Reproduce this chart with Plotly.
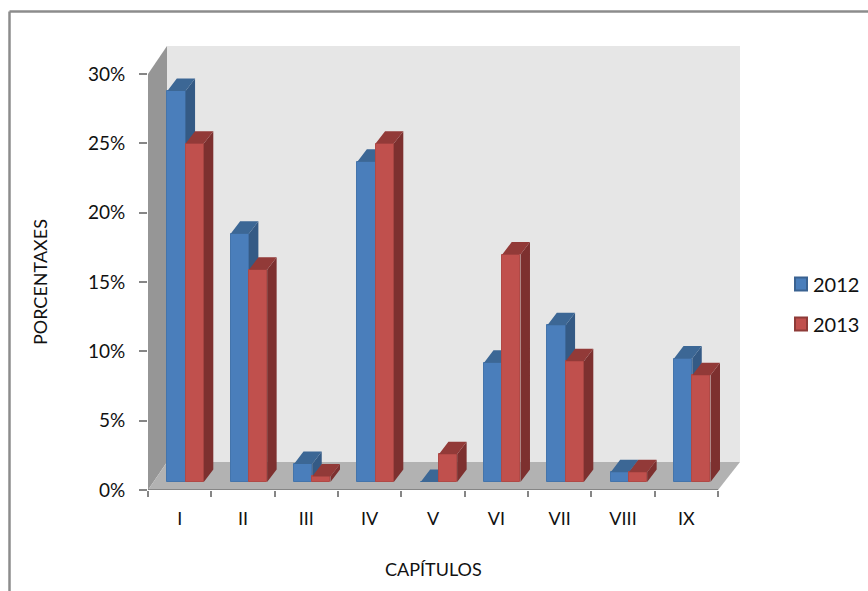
import plotly.graph_objects as go

categories = ["I", "II", "III", "IV", "V", "VI", "VII", "VIII", "IX"]
series_names = ["2012", "2013"]
values_2012 = [28.2, 17.9, 1.3, 23.1, 0.0, 8.6, 11.3, 0.7, 8.9]
values_2013 = [24.4, 15.3, 0.4, 24.4, 2.0, 16.4, 8.7, 0.7, 7.7]
y_ticks = [0, 5, 10, 15, 20, 25, 30]
y_labels = ["0%", "5%", "10%", "15%", "20%", "25%", "30%"]

FONT = "Lato, Carlito, sans-serif"
GRAY = "#868686"
W, H = 868, 591
X_END = len(categories)
X_MAX = 9.347
Y_MAX = 32.02
WALL_DX = 0.30
WALL_DY = 2.02
BAR_W = 0.288
BAR_START = 0.305
BAR_BASE = 0.58
DEPTH_X = 0.15
DEPTH_Y = 0.9
X_DOMAIN = [148 / W, 740 / W]
Y_DOMAIN = [1 - 490 / H, 1 - 46 / H]

fig = go.Figure()


def series(name, values, start, front, edge, top, side, xa, ya):
    xs = [i + start + BAR_W / 2 for i in range(len(values))]
    fig.add_trace(go.Bar(x=xs, y=values, base=BAR_BASE, width=BAR_W, name=name,
                         showlegend=False, xaxis=xa, yaxis=ya,
                         marker=dict(color=front, line=dict(color=edge, width=1))))
    tx, ty, sx, sy = [], [], [], []
    for c, v in zip(xs, values):
        l, r = c - BAR_W / 2, c + BAR_W / 2
        h = v + BAR_BASE
        tx += [l, r, r + DEPTH_X, l + DEPTH_X, l, None]
        ty += [h, h, h + DEPTH_Y, h + DEPTH_Y, h, None]
        sx += [r, r + DEPTH_X, r + DEPTH_X, r, r, None]
        sy += [h, h + DEPTH_Y, BAR_BASE + DEPTH_Y, BAR_BASE, h, None]
    for px, py, col in ((sx, sy, side), (tx, ty, top)):
        fig.add_trace(go.Scatter(x=px, y=py, mode="lines", fill="toself", fillcolor=col,
                                 line=dict(width=0, color=col), hoverinfo="skip",
                                 showlegend=False, xaxis=xa, yaxis=ya))


series(series_names[0], values_2012, BAR_START, "#4A7EBB", "#4474AB", "#3C6795", "#345A85", "x", "y")
series(series_names[1], values_2013, BAR_START + BAR_W, "#C0504D", "#B04946", "#923A38", "#7D302F", "x2", "y2")

# axis line along the front edge of the floor
fig.add_trace(go.Scatter(x=[0, X_END], y=[0, 0], mode="lines", line=dict(color=GRAY, width=2),
                         showlegend=False, hoverinfo="skip", xaxis="x2", yaxis="y2", cliponaxis=False))

walls = [
    (f"M {WALL_DX} {WALL_DY} L {X_MAX} {WALL_DY} L {X_MAX} {Y_MAX} L {WALL_DX} {Y_MAX} Z", "#E6E6E6"),
    (f"M 0 0 L 0 30 L {WALL_DX} {Y_MAX} L {WALL_DX} {WALL_DY} Z", "#969696"),
    (f"M 0 0 L {WALL_DX} {WALL_DY} L {X_MAX} {WALL_DY} L {X_END} 0 Z", "#B2B2B2"),
]
shapes = [dict(type="path", path=p, xref="x", yref="y", fillcolor=c, line=dict(width=0), layer="below")
          for p, c in walls]
frame = dict(color="#8C8C8C", width=2.5)
shapes += [
    dict(type="line", xref="paper", yref="paper", x0=9.5 / W, x1=1, y0=1 - 11.5 / H, y1=1 - 11.5 / H, line=frame, layer="below"),
    dict(type="line", xref="paper", yref="paper", x0=9.5 / W, x1=9.5 / W, y0=0, y1=1 - 11.5 / H, line=frame, layer="below"),
]
annotations = [
    dict(text="CAPÍTULOS", xref="paper", yref="paper", x=433 / W, y=1 - 569 / H, showarrow=False,
         xanchor="center", yanchor="middle", font=dict(size=18)),
    dict(text="PORCENTAXES", xref="paper", yref="paper", x=40 / W, y=1 - 282 / H, showarrow=False,
         xanchor="center", yanchor="middle", textangle=-90, font=dict(size=18)),
]
legend_items = [(series_names[0], 284, "#4A7EBB", "#3A6291"), (series_names[1], 324, "#C0504D", "#8E3B38")]
for name, cy, fill, edge in legend_items:
    shapes.append(dict(type="rect", xref="paper", yref="paper", x0=795 / W, x1=807 / W,
                       y0=1 - (cy + 6.5) / H, y1=1 - (cy - 6.5) / H, fillcolor=fill,
                       line=dict(color=edge, width=2)))
    annotations.append(dict(text=name, xref="paper", yref="paper", x=811 / W, y=1 - cy / H,
                            xanchor="left", yanchor="middle", showarrow=False, font=dict(size=20)))

fig.update_layout(
    width=W, height=H, autosize=False,
    margin=dict(l=0, r=0, t=0, b=0),
    paper_bgcolor="white", plot_bgcolor="rgba(0,0,0,0)",
    font=dict(family=FONT, size=19, color="#111111"),
    shapes=shapes, annotations=annotations,
    xaxis=dict(domain=X_DOMAIN, range=[0, X_MAX], tickmode="array", automargin=False,
               tickvals=[i + 0.5 for i in range(len(categories))], ticktext=categories,
               ticks="", showgrid=False, zeroline=False, showline=False, ticklabelstandoff=16,
               tickfont=dict(size=18),
               minor=dict(tickmode="array", tickvals=list(range(X_END + 1)), ticks="outside",
                          ticklen=6, tickwidth=2, tickcolor=GRAY, showgrid=False)),
    yaxis=dict(domain=Y_DOMAIN, range=[0, Y_MAX], tickmode="array", tickvals=y_ticks, ticktext=y_labels,
               automargin=False,
               ticks="outside", ticklen=8, tickwidth=2, tickcolor=GRAY, showgrid=False,
               zeroline=False, showline=False, ticklabelstandoff=10),
    xaxis2=dict(domain=X_DOMAIN, range=[0, X_MAX], overlaying="x", visible=False),
    yaxis2=dict(domain=Y_DOMAIN, range=[0, Y_MAX], overlaying="y", visible=False),
    showlegend=False,
    bargap=0,
)
fig.write_html("out.html", config={"displayModeBar": False},
               post_script="document.body.style.margin='0';")
